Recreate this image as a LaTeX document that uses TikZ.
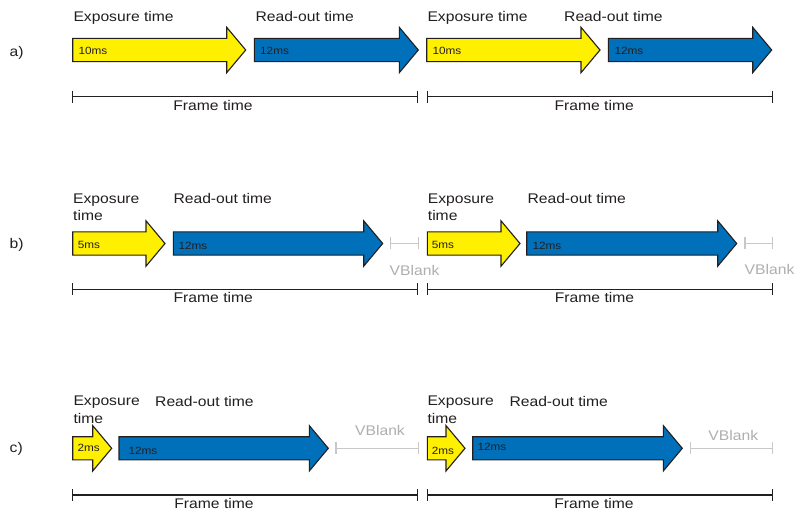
\documentclass[tikz,border=0pt]{standalone}
\usepackage{fontspec}
\setmainfont[FakeStretch=1.12]{Liberation Sans}
\definecolor{ink}{RGB}{35,31,32}
\definecolor{expyellow}{RGB}{255,240,0}
\definecolor{readblue}{RGB}{0,112,186}
\definecolor{blankline}{RGB}{200,200,200}
\definecolor{blanktext}{RGB}{175,175,175}

% block arrow: fill, left x, tip x, centre y
\newcommand\fatarrow[4]{%
  \draw[arrowbox,fill=#1] (#2,#4-11.6) -- (#3-19,#4-11.6) -- (#3-19,#4-22.7) -- (#3,#4)
    -- (#3-19,#4+22.7) -- (#3-19,#4+11.6) -- (#2,#4+11.6) -- cycle;}
% span bar with end ticks: style, x0, x1, y
\newcommand\spanbar[4]{%
  \draw[#1] (#2,#4) -- (#3,#4);
  \draw[#1] (#2,#4-6) -- (#2,#4+6);
  \draw[#1] (#3,#4-6) -- (#3,#4+6);}

\begin{document}
\begin{tikzpicture}[x=1pt,y=-1pt,
  arrowbox/.style={draw=ink,line width=1.1pt,line join=miter},
  lbl/.style={font=\fontsize{14}{17.4}\selectfont,text=ink,inner sep=0pt,anchor=base west,align=left},
  ctr/.style={font=\fontsize{14}{17.4}\selectfont,text=ink,inner sep=0pt,anchor=base},
  ms/.style={font=\fontsize{10.5}{12}\selectfont,text=ink,inner sep=0pt,anchor=base west},
  vbl/.style={font=\fontsize{14}{17.4}\selectfont,text=blanktext,inner sep=0pt},
  framebar/.style={draw=ink,line width=1.1pt},
  blankbar/.style={draw=blankline,line width=1.1pt}]
\useasboundingbox[fill=white] (0,0) rectangle (796,512);

% ---------------- row a ----------------
\node[lbl] (ra) at (9.5,56) {a)};
\fatarrow{expyellow}{72.7}{245.7}{50}
\fatarrow{readblue}{254.3}{418.3}{50}
\fatarrow{expyellow}{426.7}{600}{50}
\fatarrow{readblue}{608.3}{771.7}{50}
\node[lbl] (aexp1) at (73.3,21.7) {Exposure time};
\node[lbl] (ard1) at (255.3,21.7) {Read-out time};
\node[lbl] (aexp2) at (427.3,21.7) {Exposure time};
\node[lbl] (ard2) at (564,21.7) {Read-out time};
\node[ms] (ams1) at (78.3,54.7) {10ms};
\node[ms] (ams2) at (260,54.7) {12ms};
\node[ms] (ams3) at (432.3,54.7) {10ms};
\node[ms] (ams4) at (614.3,54.7) {12ms};
\spanbar{framebar}{72.7}{417.7}{96.7}
\spanbar{framebar}{427.7}{772.3}{96.7}
\node[ctr] (aft1) at (213,110) {Frame time};
\node[ctr] (aft2) at (594.2,110) {Frame time};

% ---------------- row b ----------------
\node[lbl] (rb) at (9.5,248.3) {b)};
\fatarrow{expyellow}{72.7}{165}{243.5}
\fatarrow{readblue}{173.3}{382.7}{243.5}
\fatarrow{expyellow}{427.3}{520}{243.5}
\fatarrow{readblue}{526.7}{736.7}{243.5}
% two-line labels are placed by the baseline of their last line
\node[lbl] (bexp1) at (73,220.7) {Exposure\\time};
\node[lbl] (brd1) at (173.3,203.3) {Read-out time};
\node[lbl] (bexp2) at (427.7,220.7) {Exposure\\time};
\node[lbl] (brd2) at (527.3,203.3) {Read-out time};
\node[ms] (bms1) at (77.7,248.3) {5ms};
\node[ms] (bms2) at (178.3,249.3) {12ms};
\node[ms] (bms3) at (431.7,248.3) {5ms};
\node[ms] (bms4) at (532.3,249.3) {12ms};
\spanbar{blankbar}{390.7}{418.3}{243.3}
\spanbar{blankbar}{745}{772.7}{243.3}
\node[vbl,anchor=base west] (bvb1) at (389.5,275) {VBlank};
\node[vbl,anchor=base west] (bvb2) at (744.5,274.5) {VBlank};
\spanbar{framebar}{72.7}{417.7}{289.3}
\spanbar{framebar}{427.7}{772.3}{289.3}
\node[ctr] (bft1) at (213.3,302.6) {Frame time};
\node[ctr] (bft2) at (594.5,302.6) {Frame time};

% ---------------- row c ----------------
\node[lbl] (rc) at (9.5,452.5) {c)};
\fatarrow{expyellow}{72.7}{111.7}{448.3}
\fatarrow{readblue}{119}{328.3}{448.3}
\fatarrow{expyellow}{427.3}{465}{448.3}
\fatarrow{readblue}{472.7}{682.3}{448.3}
\node[lbl] (cexp1) at (73.3,423.3) {Exposure\\time};
\node[lbl] (crd1) at (155,406) {Read-out time};
\node[lbl] (cexp2) at (427.3,423.3) {Exposure\\time};
\node[lbl] (crd2) at (509.3,406) {Read-out time};
\node[ms] (cms1) at (77.3,451.7) {2ms};
\node[ms] (cms2) at (128.3,454) {12ms};
\node[ms] (cms3) at (431.7,454) {2ms};
\node[ms] (cms4) at (477.3,450.7) {12ms};
\spanbar{blankbar}{336}{418.3}{448.3}
\spanbar{blankbar}{690.7}{772.7}{448.3}
\node[vbl,anchor=base] (cvb1) at (380,435) {VBlank};
\node[vbl,anchor=base] (cvb2) at (733.3,440) {VBlank};
\spanbar{framebar}{72.7}{417.7}{495}
\spanbar{framebar}{427.7}{772.3}{495}
\node[ctr] (cft1) at (214,508.3) {Frame time};
\node[ctr] (cft2) at (594,508.3) {Frame time};
\end{tikzpicture}
\end{document}
